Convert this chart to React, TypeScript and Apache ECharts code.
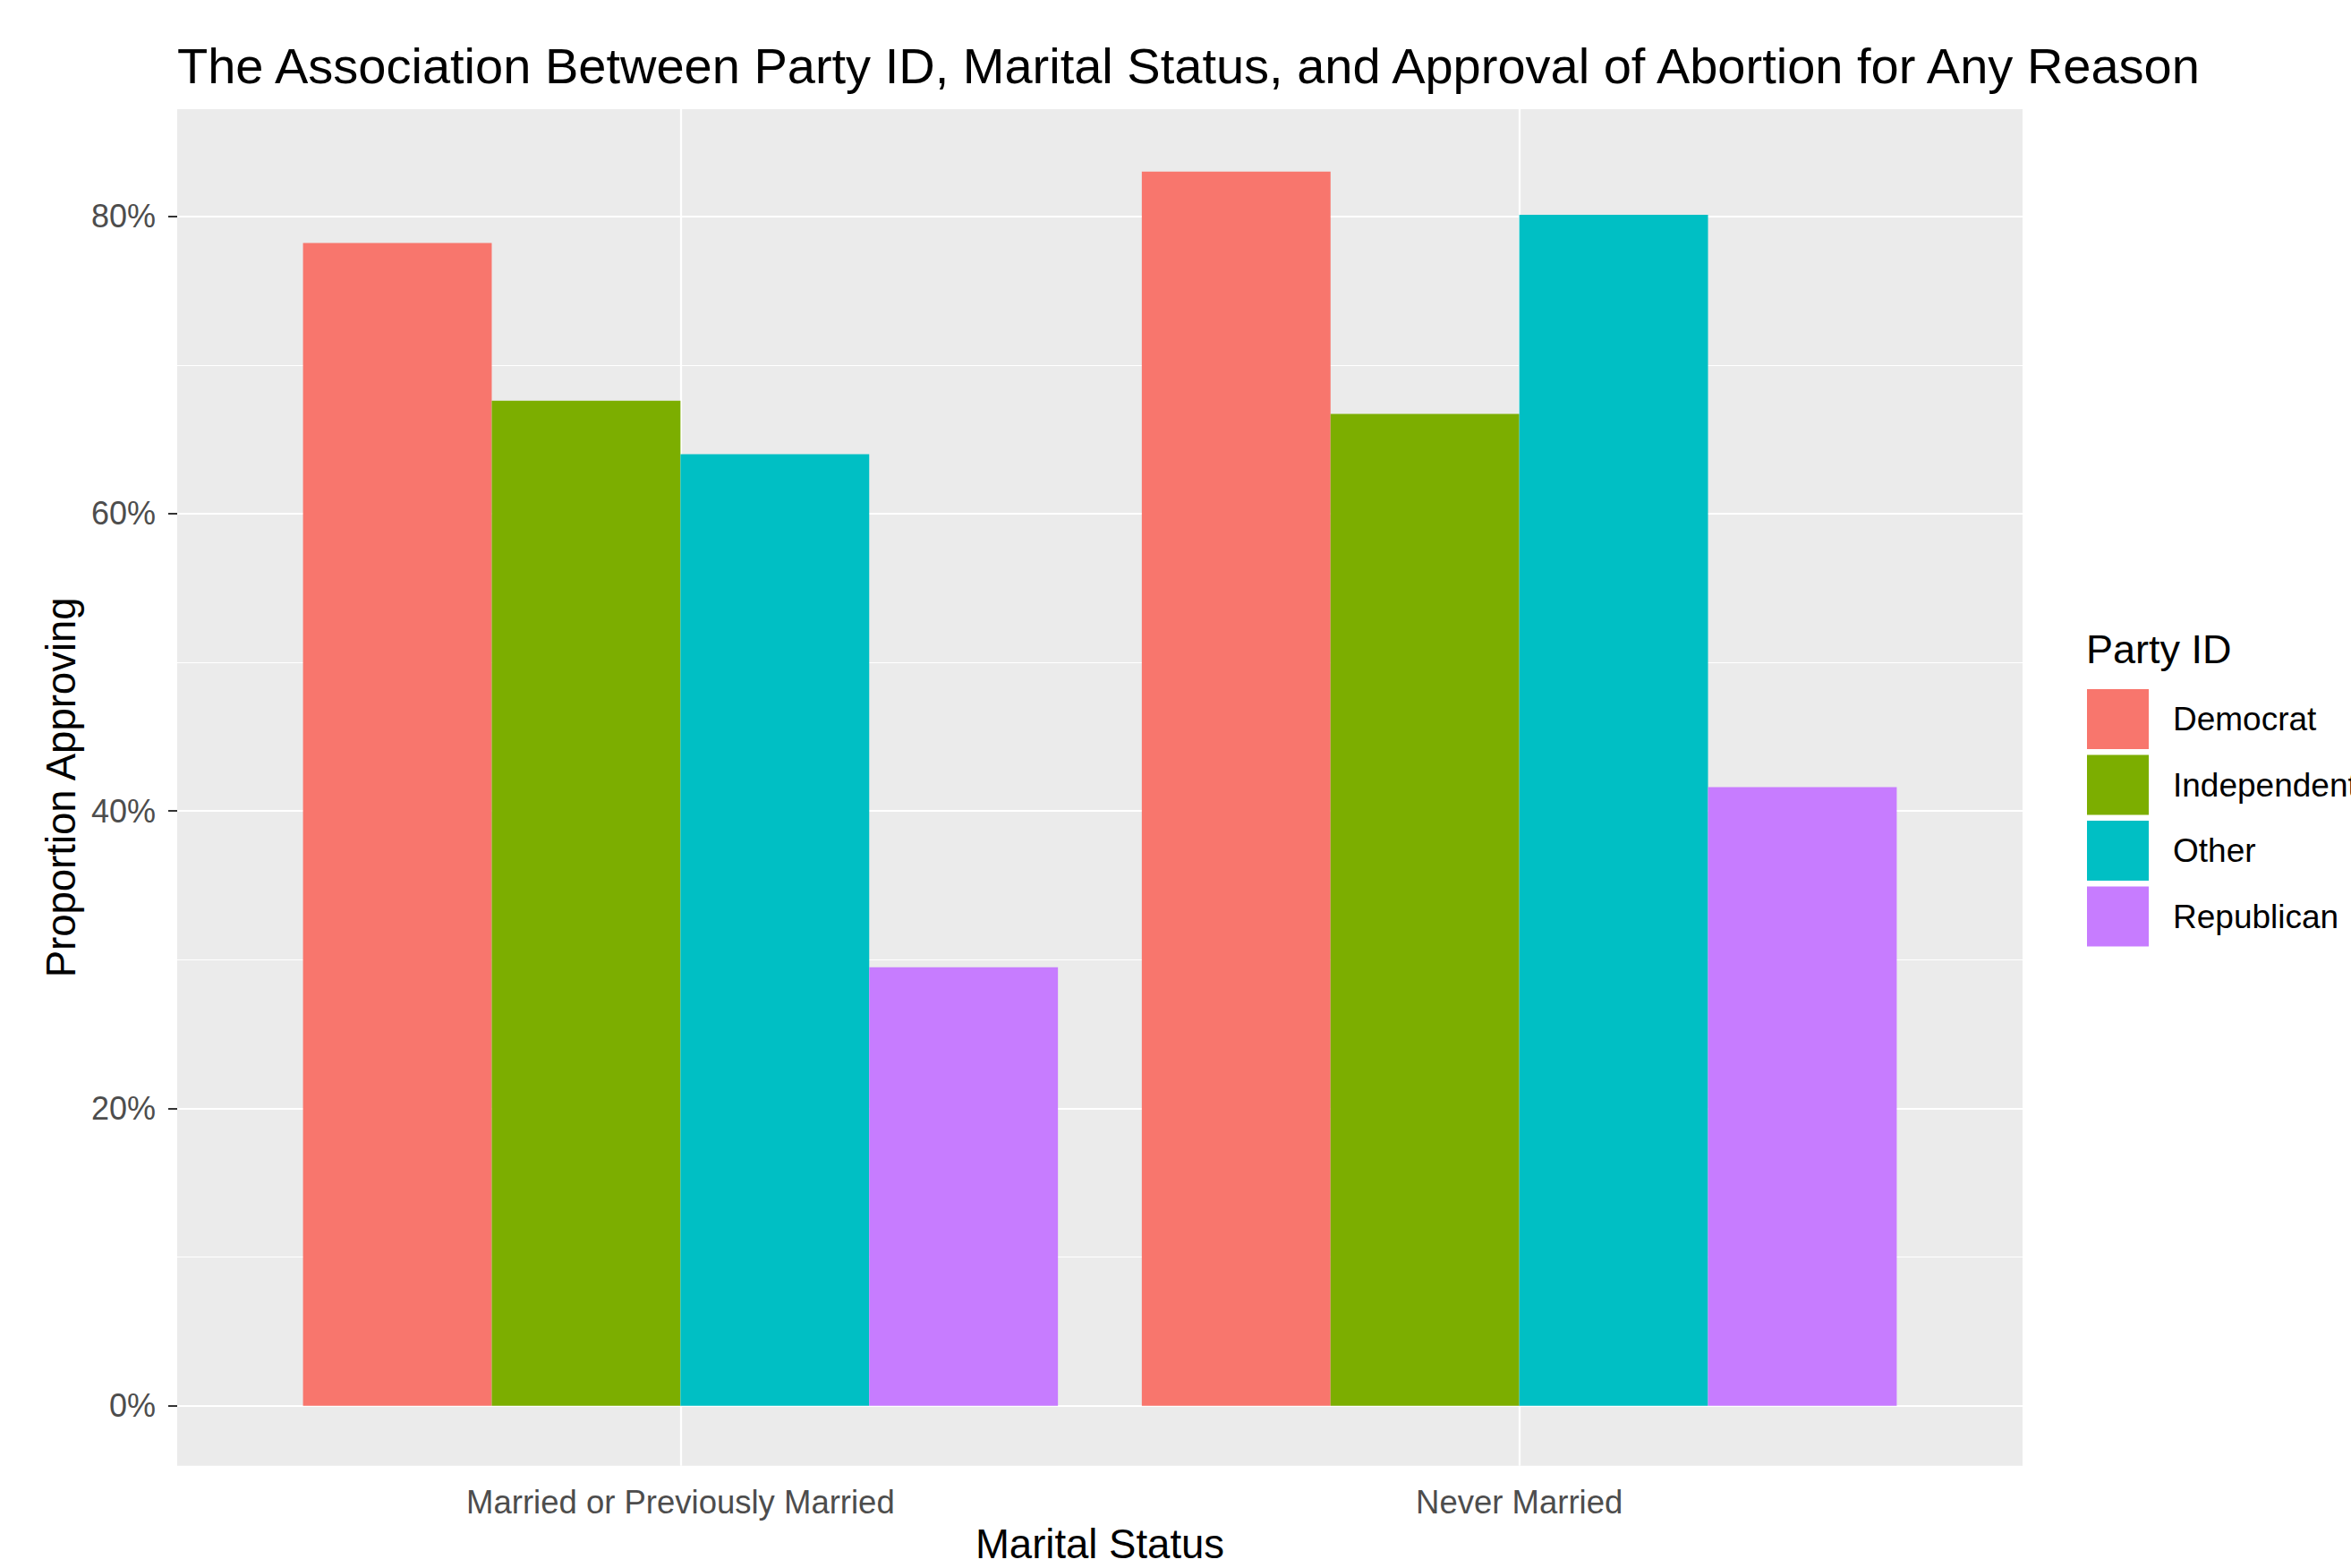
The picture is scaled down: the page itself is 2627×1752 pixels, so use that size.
import React, { useEffect, useRef } from "react";
import * as echarts from "echarts";

// ---- data ----
const categories = ["Married or Previously Married", "Never Married"];
const parties = ["Democrat", "Independent", "Other", "Republican"];
const democrat = [78.2, 83.0];
const independent = [67.6, 66.7];
const other = [64.0, 80.1];
const republican = [29.5, 41.6];
const partyValues = [democrat, independent, other, republican];
const partyColors = ["#F8766D", "#7CAE00", "#00BFC4", "#C77CFF"];
const majorTicks = [0, 20, 40, 60, 80];
const minorTicks = [10, 30, 50, 70];
const yMin = -4.03;
const yMax = 87.2;

const FONT = "'Liberation Sans', Arial, Helvetica, sans-serif";

export default function App() {
  const ref = useRef<HTMLDivElement>(null);

  useEffect(() => {
    document.body.style.margin = "0";
    if (!ref.current) return;
    const chart = echarts.init(ref.current, undefined, { renderer: "svg" });

    const panelLeft = 198;
    const panelTop = 122;
    const panelWidth = 2062;
    const panelHeight = 1515.7;
    const inset = (panelWidth * 0.1) / 2.2;

    const gridLine = (w: number) => ({ color: "#FFFFFF", width: w, type: "solid" as const });

    const option: any = {
      animation: false,
      backgroundColor: "#FFFFFF",
      textStyle: { fontFamily: FONT },
      title: [
        {
          text: "The Association Between Party ID, Marital Status, and Approval of Abortion for Any Reason",
          left: 198,
          top: 45,
          padding: 0,
          textStyle: { fontSize: 56, fontWeight: "normal", color: "#000000", fontFamily: FONT },
        },
        {
          text: "Party ID",
          left: 2331,
          top: 703,
          padding: 0,
          textStyle: { fontSize: 45, fontWeight: "normal", color: "#000000", fontFamily: FONT },
        },
      ],
      legend: {
        data: parties,
        orient: "vertical",
        left: 2332,
        top: 770,
        padding: 0,
        itemWidth: 69,
        itemHeight: 67,
        itemGap: 6.5,
        icon: "rect",
        textStyle: { fontSize: 37, color: "#000000", fontFamily: FONT, padding: [26, 0, 0, 22] },
      },
      grid: [
        {
          left: panelLeft,
          top: panelTop,
          width: panelWidth,
          height: panelHeight,
          show: true,
          backgroundColor: "#EBEBEB",
          borderWidth: 0,
          containLabel: false,
          outerBoundsMode: "none",
        },
        {
          left: panelLeft + inset,
          top: panelTop,
          width: panelWidth - 2 * inset,
          height: panelHeight,
          show: false,
          containLabel: false,
          outerBoundsMode: "none",
        },
      ],
      xAxis: [
        { gridIndex: 0, type: "value", min: 0, max: 1, show: false },
        {
          gridIndex: 1,
          type: "category",
          data: categories,
          boundaryGap: true,
          axisLine: { show: false },
          axisTick: { show: true, alignWithLabel: true, length: 10, lineStyle: { color: "#333333", width: 2 } },
          axisLabel: { color: "#4D4D4D", fontSize: 36.5, margin: 22, fontFamily: FONT },
          splitLine: { show: false },
          name: "Marital Status",
          nameLocation: "middle",
          nameGap: 65,
          nameTextStyle: { color: "#000000", fontSize: 45.5, fontFamily: FONT },
        },
      ],
      yAxis: [
        {
          gridIndex: 0,
          type: "value",
          min: yMin,
          max: yMax,
          axisLine: { show: false },
          axisTick: {
            show: true,
            customValues: majorTicks,
            length: 10,
            lineStyle: { color: "#333333", width: 2 },
          },
          axisLabel: {
            customValues: majorTicks,
            formatter: (v: number) => (majorTicks.indexOf(Math.round(v * 1000) / 1000) >= 0 ? `${v}%` : ""),
            color: "#4D4D4D",
            fontSize: 36,
            margin: 24,
            fontFamily: FONT,
          },
          splitLine: { show: false },
          name: "Proportion Approving",
          nameLocation: "middle",
          nameRotate: 90,
          nameGap: 100,
          nameTextStyle: { color: "#000000", fontSize: 45.5, fontFamily: FONT },
        },
        { gridIndex: 1, type: "value", min: yMin, max: yMax, show: false },
      ],
      series: [
        {
          type: "line",
          xAxisIndex: 0,
          yAxisIndex: 0,
          data: [],
          silent: true,
          markLine: {
            silent: true,
            z: 1,
            symbol: ["none", "none"],
            label: { show: false },
            emphasis: { disabled: true },
            data: [
              ...majorTicks.map((v) => ({ yAxis: v, lineStyle: gridLine(2.2) })),
              ...minorTicks.map((v) => ({ yAxis: v, lineStyle: gridLine(1.1) })),
            ],
          },
        },
        {
          type: "line",
          xAxisIndex: 1,
          yAxisIndex: 1,
          data: [],
          silent: true,
          markLine: {
            silent: true,
            z: 1,
            symbol: ["none", "none"],
            label: { show: false },
            emphasis: { disabled: true },
            data: categories.map((c) => ({ xAxis: c, lineStyle: gridLine(2.2) })),
          },
        },
        ...parties.map((p, i) => ({
          name: p,
          type: "bar",
          xAxisIndex: 1,
          yAxisIndex: 1,
          data: partyValues[i],
          barWidth: "22.5%",
          barGap: "0%",
          z: 2,
          itemStyle: { color: partyColors[i] },
          emphasis: { disabled: true },
        })),
      ],
    };

    chart.setOption(option);
    return () => chart.dispose();
  }, []);

  return (
    <div
      ref={ref}
      style={{ position: "fixed", left: 0, top: 0, width: 2627, height: 1752, background: "#FFFFFF" }}
    />
  );
}
